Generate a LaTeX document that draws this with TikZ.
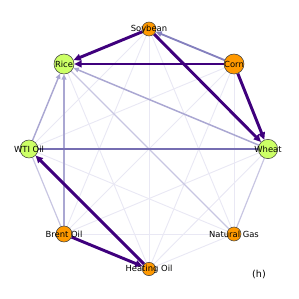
\documentclass[tikz,border=0pt]{standalone}
\usepackage{fontspec}
\setmainfont{DejaVu Sans}
\usetikzlibrary{arrows.meta,backgrounds}
\definecolor{dk}{RGB}{63,0,125}
\definecolor{md}{RGB}{118,110,178}
\definecolor{mdb}{RGB}{132,128,190}
\definecolor{lm}{RGB}{170,167,210}
\definecolor{lt}{RGB}{200,198,226}
\definecolor{ft}{RGB}{233,232,244}
\definecolor{gn}{RGB}{204,255,102}
\definecolor{og}{RGB}{255,153,0}
\tikzset{
  circ/.style={circle,draw=black!75,line width=0.4pt,inner sep=0pt},
  gnode/.style={circ,fill=gn},
  onode/.style={circ,fill=og},
  lab/.style={font=\fontsize{6.3}{7}\selectfont,inner sep=0pt},
  dkedge/.style={draw=dk,line width=2.2pt,-{Triangle[length=5.5pt,width=5pt]}},
  mdedge/.style={draw=md,line width=1.5pt},
  mdbedge/.style={draw=mdb,line width=1.4pt,-{Triangle[length=4.5pt,width=4pt]}},
  lmedge/.style={draw=lm,line width=1.1pt,-{Triangle[length=4pt,width=3.5pt]}},
  ltedge/.style={draw=lt,line width=0.9pt},
  ftedge/.style={draw=ft,line width=0.7pt}
}
\begin{document}
\begin{tikzpicture}[x=0.75pt,y=-0.75pt]
\useasboundingbox (0,0) rectangle (299,299);
\node[onode,minimum size=10.5pt] (S) at (149,29) {};
\node[onode,minimum size=15pt] (C) at (234,64) {};
\node[gnode,minimum size=14.5pt] (W) at (268,149) {};
\node[onode,minimum size=10.5pt] (N) at (234,234) {};
\node[onode,minimum size=10pt] (H) at (149,269) {};
\node[onode,minimum size=12pt] (B) at (64,234) {};
\node[gnode,minimum size=13.5pt] (T) at (29,149) {};
\node[gnode,minimum size=15pt] (R) at (64,64) {};
\node[lab] (Sl) at (S) {Soybean};
\node[lab] (Cl) at (C) {Corn};
\node[lab] (Wl) at (W) {Wheat};
\node[lab] (Nl) at (N) {Natural Gas};
\node[lab] (Hl) at (H) {Heating Oil};
\node[lab] (Bl) at (B) {Brent Oil};
\node[lab] (Tl) at (T) {WTI Oil};
\node[lab] (Rl) at (R) {Rice};
\node[lab,font=\fontsize{7.2}{8}\selectfont] (hl) at (259,274) {(h)};
\begin{pgfonlayer}{background}
% faint
\draw[ftedge] (S) -- (N);
\draw[ftedge] (S) -- (H);
\draw[ftedge] (S) -- (B);
\draw[ftedge] (S) -- (T);
\draw[ftedge] (C) -- (N);
\draw[ftedge] (C) -- (H);
\draw[ftedge] (C) -- (B);
\draw[ftedge] (C) -- (T);
\draw[ftedge] (W) -- (H);
\draw[ftedge] (W) -- (B);
\draw[ftedge] (N) -- (H);
\draw[ftedge] (N) -- (B);
\draw[ftedge] (N) -- (T);
\draw[ftedge] (H) -- (R);
% light
\draw[ltedge] (W) -- (N);
\draw[ltedge] (N) -- (R);
\draw[ltedge] (B) -- (T);
% light-medium
\draw[lmedge] (W) -- (R);
\draw[lmedge] (B) -- (R);
\draw[lmedge] (T) -- (R);
% medium
\draw[mdedge] (T) -- (W);
\draw[mdbedge] (C) -- (S);
% dark
\draw[dkedge] (S) -- (R);
\draw[dkedge] (C) -- (R);
\draw[dkedge] (S) -- (W);
\draw[dkedge] (C) -- (W);
\draw[dkedge] (H) -- (T);
\draw[dkedge] (B) -- (H);
\end{pgfonlayer}
\end{tikzpicture}
\end{document}
